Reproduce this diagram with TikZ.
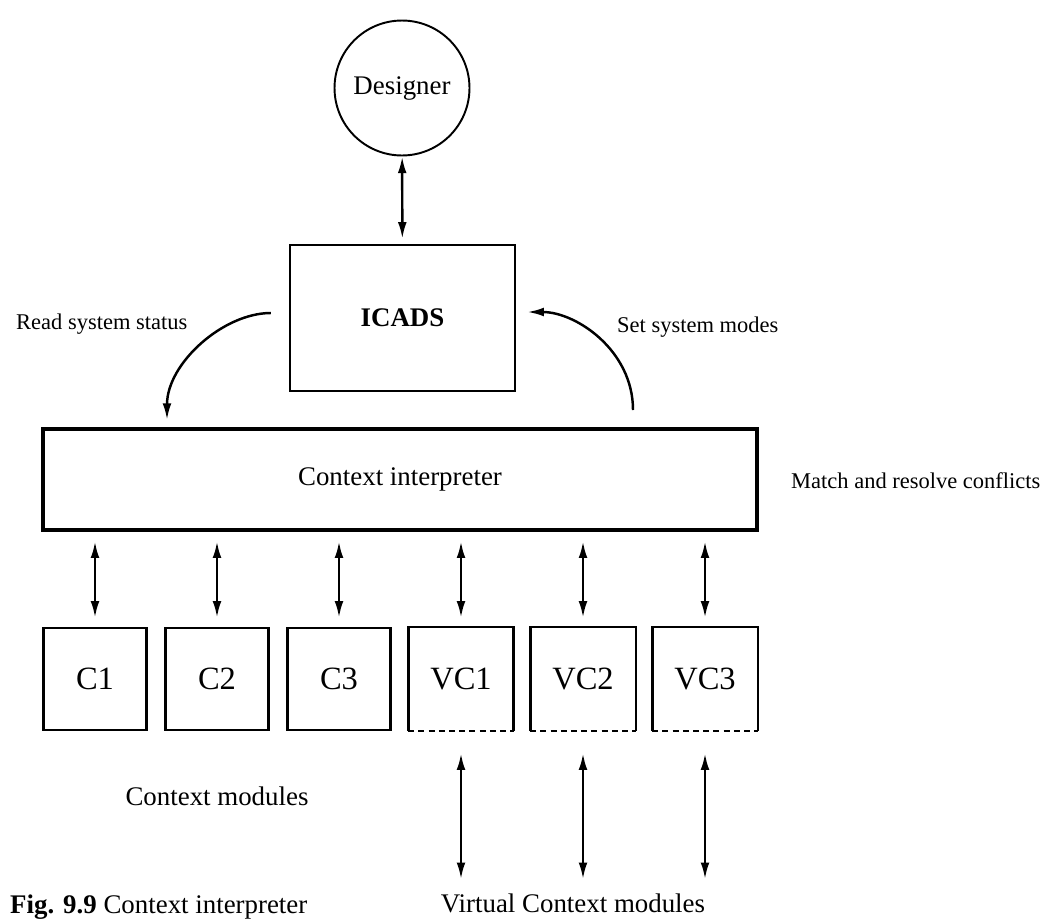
\documentclass[tikz,border=0pt]{standalone}
\usepackage{fontspec}
\setmainfont{Liberation Serif}
\usetikzlibrary{arrows.meta,positioning}

\begin{document}
\begin{tikzpicture}[x=0.02cm, y=-0.02cm,
	box/.style={draw, line width=1.4pt, inner sep=0pt},
	module/.style={box, minimum width=20.6mm, minimum height=20.4mm,
		font=\fontsize{18.5}{20}\selectfont},
	tip/.tip={Latex[length=9.5pt, width=5pt]},
	link/.style={tip-tip, line width=1.4pt},
	flow/.style={-tip, line width=1.4pt},
	note/.style={font=\fontsize{12.8}{14}\selectfont},
	big/.style={font=\fontsize{15.3}{17}\selectfont}]
\useasboundingbox (0,0) rectangle (1047,923);
\node[box, circle, line width=1.1pt, minimum size=27mm, big] (designer) at (402,88) {Designer};
\node[box, minimum width=45mm, minimum height=29.2mm, big] (icads) at (402.5,318)
	{\raisebox{-1mm}{\textbf{ICADS}}};
\node[box, line width=2.6pt, minimum width=142.8mm, minimum height=20.2mm, big]
	(interp) at (400,479.5) {Context interpreter};
\foreach \n [count=\i] in {C1, C2, C3}
	\node[module] (c\i) at ({95+122*(\i-1)}, 679) {\n};
\foreach \n [count=\i] in {VC1, VC2, VC3}
	\node[module, draw=none] (vc\i) at ({461+122*(\i-1)}, 679) {\n};
% virtual modules: open at the bottom
\foreach \i in {1, 2, 3} {
	\draw[line width=1.4pt] (vc\i.south west) -- (vc\i.north west)
		-- (vc\i.north east) -- (vc\i.south east);
	\draw[line width=1.4pt, dash pattern=on 3.4pt off 2.4pt] (vc\i.south west) -- (vc\i.south east);
	\path (vc\i.south) ++(0,148) coordinate (vout\i);
	\draw[link, shorten <=4.4mm] (vc\i) -- (vout\i);
}
\foreach \m in {c1, c2, c3, vc1, vc2, vc3}
	\draw[link, shorten <=1.8mm, shorten >=1.8mm] (\m.north |- interp.south) -- (\m.north);
\draw[link, shorten >=1mm] (designer) -- (icads);

\coordinate (readend) at (167,429);
\coordinate (setstart) at (633,410);
\draw[flow, shorten <=3.6mm, shorten >=1.8mm] ([yshift=1mm]icads.west)
	to[out=180, in=90] (readend);
\draw[flow, shorten >=2.2mm] (setstart) to[out=90, in=0] ([yshift=1.2mm]icads.east);

\node[note, anchor=west] (read) at (10,324) {Read system status};
\node[note, anchor=west] (set) at (611,327) {Set system modes};
\node[note, anchor=west] (match) at (785,481) {Match and resolve conflicts};
\node[big] (cmods) at (217,796) {Context modules};
\node[big] (vmods) at (573,903) {Virtual Context modules};
\node[big, anchor=west] (fig) at (4,907) {\textbf{Fig. 9.9} Context interpreter};
\end{tikzpicture}
\end{document}
